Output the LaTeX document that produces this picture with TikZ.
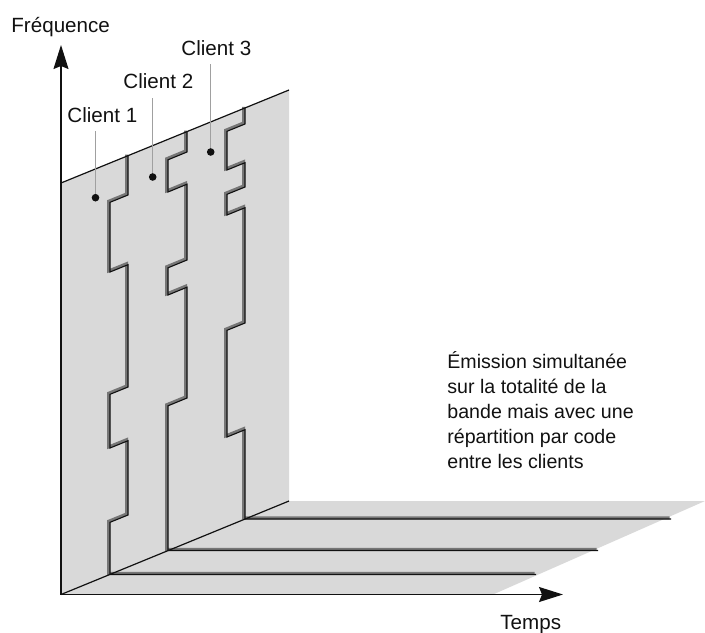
\documentclass[tikz,border=0pt]{standalone}
\usepackage{fontspec}
\setmainfont{Liberation Sans}
\usepackage{tikz}
\usetikzlibrary{arrows.meta,calc}
\definecolor{ink}{HTML}{111111}
\definecolor{wallgray}{HTML}{D9D9D9}
\definecolor{shade}{HTML}{767676}
\definecolor{leadgray}{HTML}{A0A0A0}
\tikzset{
  every node/.style={font=\fontsize{10.3}{12.5}\selectfont,text=ink},
  plane/.style={fill=wallgray,draw=none},
  edge/.style={draw=ink,line width=0.6pt},
  axis/.style={draw=ink,line width=0.6pt,-{Stealth[length=12pt,width=7.5pt,inset=1.5pt]}},
  groove/.style={draw=ink,line width=0.55pt,line join=miter},
  grooveshade/.style={draw=shade,line width=1.5pt,xshift=-0.65pt,yshift=0.55pt},
  lead/.style={draw=leadgray,line width=0.45pt},
  lbl/.style={inner sep=0pt,anchor=base west},
  notetext/.style={lbl,align=left,font=\fontsize{9.8}{12.5}\selectfont},
  dot/.style={fill=ink}
}
% one code boundary: shaded groove under a thin black line
\newcommand{\codeline}[1]{%
  \draw[grooveshade] #1;
  \draw[groove] #1;}

\begin{document}
\begin{tikzpicture}[x=0.5pt,y=-0.5pt]
  \useasboundingbox (0,0) rectangle (705,632);

  \coordinate (O) at (61,594.5);
  \coordinate (wallTL) at (61,183);
  \coordinate (wallTR) at (289,90);
  \coordinate (wallBR) at (289,501);
  \coordinate (floorR) at (705,501);
  \coordinate (floorF) at (493,594.5);
  \coordinate (freqTip) at (61,45);
  \coordinate (timeTip) at (563,594.5);

  % wall and floor
  \fill[plane] (O) -- (wallTL) -- (wallTR) -- (wallBR) -- cycle;
  \fill[plane] (O) -- (wallBR) -- (floorR) -- (floorF) -- cycle;

  % code boundaries between the clients
  \codeline{(128,155.7) -- (128,195) -- (110,202.3) -- (110,272) -- (128,264.7)
    -- (128,387) -- (110,394.3) -- (110,448) -- (128,440.7) -- (128,515)
    -- (110,522.3) -- (110,574.5) -- (536,574.5)}
  \codeline{(187,131.6) -- (187,152) -- (168,159.8) -- (168,192) -- (187,184.2)
    -- (187,260) -- (168,267.8) -- (168,295) -- (187,287.2) -- (187,398)
    -- (168,405.8) -- (168,550.5) -- (598,550.5)}
  \codeline{(245,107.9) -- (245,124) -- (227,131.3) -- (227,170) -- (245,162.7)
    -- (245,187) -- (227,194.3) -- (227,215) -- (245,207.7) -- (245,323)
    -- (227,330.3) -- (227,437) -- (245,429.7) -- (245,519) -- (671,519)}

  % edges and axes
  \draw[edge] (wallTL) -- (wallTR);
  \draw[edge] (O) -- (wallBR);
  \draw[axis] (O) -- (freqTip);
  \draw[axis] (O) -- (timeTip);

  % labels
  \node[lbl] (freq) at (11,32) {Fréquence};
  \node[lbl] (time) at (500,629) {Temps};
  \node[lbl] (c1) at (67,122) {Client 1};
  \node[lbl] (c2) at (123,88) {Client 2};
  \node[lbl] (c3) at (181,55) {Client 3};
  \node[notetext] (note) at (447,468) {Émission simultanée\\sur la totalité de la\\bande mais avec une\\répartition par code\\entre les clients};

  % leaders to the client bands
  \coordinate (d1) at (95.5,197.7);
  \coordinate (d2) at (152.7,177);
  \coordinate (d3) at (210.7,152);
  \draw[lead] (d1) -- ($(d1 |- c1.south)+(0,8)$);
  \draw[lead] (d2) -- ($(d2 |- c2.south)+(0,9)$);
  \draw[lead] (d3) -- ($(d3 |- c3.south)+(0,8)$);
  \foreach \d in {d1,d2,d3}
    \fill[dot] (\d) circle[radius=3.8];
\end{tikzpicture}
\end{document}
